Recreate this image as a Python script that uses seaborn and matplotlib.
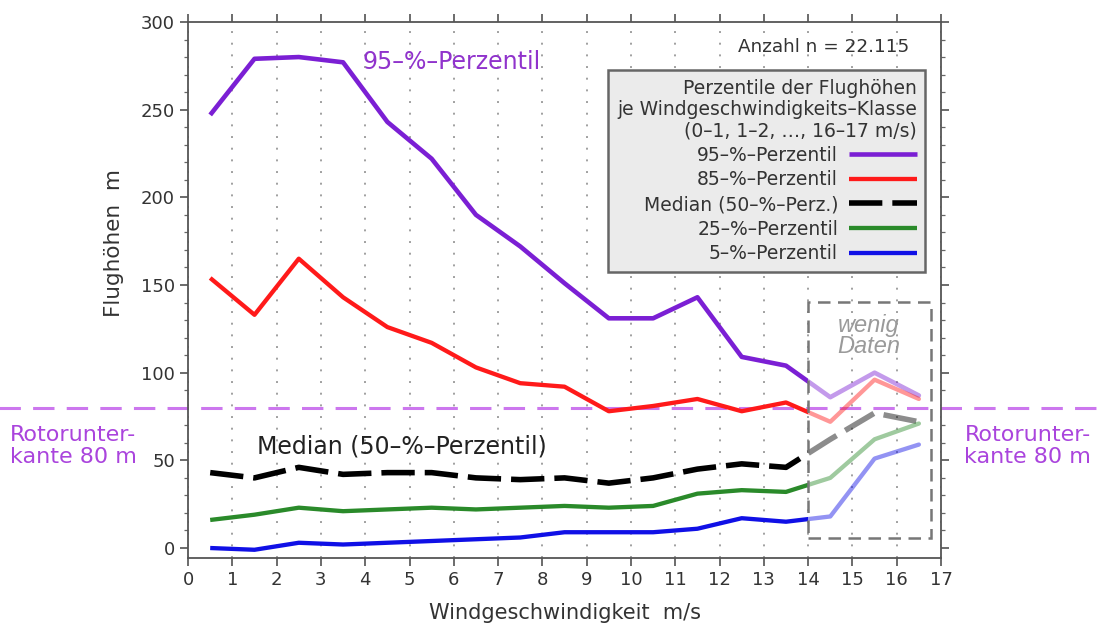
import numpy as np
import pandas as pd
import matplotlib
matplotlib.use("Agg")
import matplotlib.pyplot as plt
from matplotlib.patches import Rectangle
from matplotlib.ticker import MultipleLocator
import seaborn as sns

# ---- data ----
wind = [0.5, 1.5, 2.5, 3.5, 4.5, 5.5, 6.5, 7.5, 8.5, 9.5, 10.5, 11.5, 12.5, 13.5, 14.5, 15.5, 16.5]
p95 = [247, 279, 280, 277, 243, 222, 190, 172, 151, 131, 131, 143, 109, 104, 86, 100, 87]
p85 = [154, 133, 165, 143, 126, 117, 103, 94, 92, 78, 81, 85, 78, 83, 72, 96, 85]
p50 = [43, 40, 46, 42, 43, 43, 40, 39, 40, 37, 40, 45, 48, 46, 62, 77, 72]
p25 = [16, 19, 23, 21, 22, 23, 22, 23, 24, 23, 24, 31, 33, 32, 40, 62, 71]
p05 = [0, -1, 3, 2, 3, 4, 5, 6, 9, 9, 9, 11, 17, 15, 18, 51, 59]
labels = ["95–%–Perzentil", "85–%–Perzentil", "Median (50–%–Perz.)", "25–%–Perzentil", "5–%–Perzentil"]
rotor_height = 80
few_data_from = 14
x_ticks = list(range(0, 18))
y_ticks = list(range(0, 301, 50))

df = pd.DataFrame({"wind": wind, "p95": p95, "p85": p85, "p50": p50, "p25": p25, "p05": p05})

sns.set_style("ticks")
plt.rcParams["font.family"] = ["DejaVu Sans"]

fig = plt.figure(figsize=(11.01, 6.37), dpi=100)
ax = fig.add_axes([0.1708, 0.124, 0.6839, 0.8415])

series = [
    ("p95", "#7b1fd4", "-", 3.3),
    ("p85", "#ff1a1a", "-", 3.1),
    ("p50", "#000000", "--", 4.0),
    ("p25", "#2a8a2a", "-", 3.1),
    ("p05", "#1010e6", "-", 3.1),
]

handles = []
for (col, color, ls, lw), lab in zip(series, labels):
    kw = dict(color=color, linewidth=lw, linestyle=ls)
    # faded part (few data)
    sns.lineplot(data=df, x="wind", y=col, ax=ax, alpha=0.45, label="_nolegend_", **kw)
    faded = ax.lines[-1]
    faded.set_clip_path(Rectangle((few_data_from, -100), 10, 1000, transform=ax.transData))
    sns.lineplot(data=df, x="wind", y=col, ax=ax, label=lab, **kw)
    solid = ax.lines[-1]
    solid.set_clip_path(Rectangle((-5, -100), few_data_from + 5, 1000, transform=ax.transData))
    if ls == "--":
        faded.set_dashes((6, 1.8))
        solid.set_dashes((6, 1.8))
    solid.set_solid_capstyle("butt")
    handles.append(solid)

# rotor line across whole figure
ax.axhline(rotor_height, xmin=-0.3, xmax=1.4, color="#cc77ee", linestyle=(0, (7, 4)),
           linewidth=2.2, clip_on=False, zorder=1)

# few data box
ax.add_patch(Rectangle((14.0, 5.7), 2.77, 134.5, fill=False, edgecolor="#777777",
                       linestyle=(0, (5, 3)), linewidth=1.8, zorder=3))
ax.text(15.37, 121, "wenig\nDaten", ha="center", va="center", fontsize=17, style="italic",
        color="#9a9a9a", family="Liberation Sans", linespacing=0.92)

ax.set_xlim(0, 17)
ax.set_ylim(-5.7, 300)
ax.set_xticks(x_ticks)
ax.set_yticks(y_ticks)
ax.yaxis.set_minor_locator(MultipleLocator(10))
ax.tick_params(axis="both", which="major", direction="out", length=6, width=1.1,
               labelsize=13, colors="#444444", labelcolor="#333333",
               top=True, right=True)
ax.tick_params(axis="y", which="minor", direction="out", length=3, width=0.9,
               colors="#666666", right=True, left=True)
for s in ax.spines.values():
    s.set_visible(True)
    s.set_color("#555555")
    s.set_linewidth(1.3)

ax.xaxis.grid(True, linestyle=(0, (1, 5)), color="#a0a0a0", linewidth=1.4)
ax.set_axisbelow(True)

ax.set_xlabel("Windgeschwindigkeit  m/s", fontsize=15, color="#333333", labelpad=10)
ax.set_ylabel("Flughöhen  m", fontsize=15.5, color="#333333")
ax.yaxis.set_label_coords(-0.085, 0.588)

ax.text(5.94, 277, "95–%–Perzentil", color="#9033cc", fontsize=17, ha="center", va="center")
ax.text(4.83, 58, "Median (50–%–Perzentil)", color="#222222", fontsize=17, ha="center", va="center")
ax.text(0.958, 0.953, "Anzahl n = 22.115", transform=ax.transAxes, ha="right", va="center",
        fontsize=13.2, color="#333333")

fig.text(0.009, 0.3, "Rotorunter-\nkante 80 m", color="#aa44dd", fontsize=16,
         ha="left", va="center", linespacing=1.12)
fig.text(0.876, 0.3, "Rotorunter-\nkante 80 m", color="#aa44dd", fontsize=16,
         ha="left", va="center", linespacing=1.12)

leg = ax.legend(handles=handles, labels=labels, loc="upper right",
                bbox_to_anchor=(0.979, 0.910), borderaxespad=0, markerfirst=False,
                alignment="right", fontsize=13.5, title_fontsize=13.5,
                title="Perzentile der Flughöhen\nje Windgeschwindigkeits–Klasse\n(0–1, 1–2, …, 16–17 m/s)",
                handlelength=3.6, handletextpad=0.6, labelspacing=0.3,
                fancybox=False, frameon=True, borderpad=0.45)
leg.get_title().set_multialignment("right")
leg.get_title().set_color("#333333")
leg.get_title().set_linespacing(1.15)
for t in leg.get_texts():
    t.set_color("#333333")
fr = leg.get_frame()
fr.set_facecolor("#ebebeb")
fr.set_edgecolor("#666666")
fr.set_linewidth(1.8)
fr.set_alpha(1)

fig.savefig("out.png", dpi=100)
